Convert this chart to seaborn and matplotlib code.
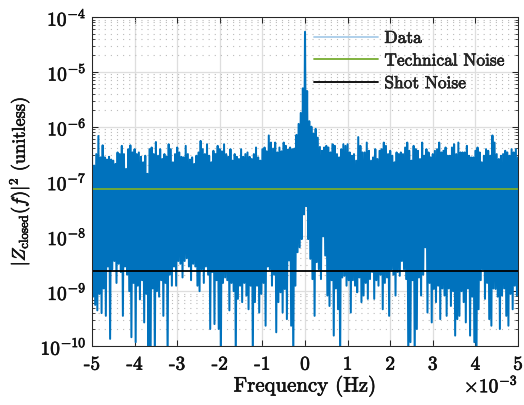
import numpy as np
import pandas as pd
import matplotlib
matplotlib.use("Agg")
import matplotlib.pyplot as plt
import matplotlib.patheffects as pe
import seaborn as sns
from matplotlib.lines import Line2D
from matplotlib.ticker import LogLocator, NullFormatter, LogFormatterSciNotation

# Closed-loop periodogram, 401 frequency bins across +-5 mHz.
# Even bins and odd bins are kept as separate lists of log10 power.
even_bins_log10 = [
    -6.41, -6.71, -6.50, -6.17, -6.56, -6.34, -6.56, -6.60, -6.55, -6.60,
    -6.62, -6.68, -6.47, -6.50, -6.35, -6.50, -6.77, -6.41, -6.34, -6.47,
    -6.41, -6.50, -6.47, -6.55, -6.65, -6.53, -6.86, -6.41, -6.38, -6.50,
    -6.28, -6.53, -6.41, -6.59, -6.50, -6.55, -6.32, -6.41, -6.65, -6.50,
    -6.38, -6.47, -6.55, -6.56, -6.35, -6.50, -6.60, -6.56, -6.68, -6.53,
    -6.47, -6.26, -6.41, -6.50, -6.32, -6.53, -6.65, -6.44, -6.50, -6.35,
    -6.41, -6.45, -6.32, -6.50, -6.55, -6.41, -6.62, -6.50, -6.55, -6.59,
    -6.41, -6.55, -6.50, -6.47, -6.55, -6.59, -6.50, -6.38, -6.56, -6.62,
    -6.41, -6.38, -6.45, -6.16, -6.29, -6.40, -6.29, -6.47, -6.38, -6.45,
    -6.29, -6.35, -6.42, -6.38, -6.41, -6.40, -6.15, -5.95, -5.75, -5.30,
    -4.27, -5.35, -5.90, -6.00, -6.13, -6.04, -6.20, -6.37, -6.44, -6.38,
    -6.35, -6.38, -6.47, -6.32, -6.35, -6.50, -6.56, -6.41, -6.32, -6.35,
    -6.32, -6.47, -6.53, -6.50, -6.62, -6.19, -6.35, -6.47, -6.47, -6.29,
    -6.44, -6.62, -6.56, -6.41, -6.59, -6.44, -6.41, -6.29, -6.35, -6.50,
    -6.44, -6.53, -6.65, -6.47, -6.50, -6.47, -6.50, -6.38, -6.29, -6.44,
    -6.62, -6.35, -6.41, -6.44, -6.59, -6.29, -6.53, -6.41, -6.47, -6.56,
    -6.50, -6.44, -6.41, -6.29, -6.47, -6.44, -6.38, -6.53, -6.53, -6.38,
    -6.32, -6.50, -6.29, -6.47, -6.47, -6.47, -6.35, -6.53, -6.56, -6.56,
    -6.44, -6.38, -6.47, -6.65, -6.53, -6.41, -6.44, -6.53, -6.16, -6.29,
    -6.50, -6.59, -6.53, -6.50, -6.44, -6.47, -6.53, -6.41, -6.47, -6.41,
    -6.56,
]
odd_bins_log10 = [
    -9.10, -9.25, -9.35, -9.05, -9.40, -8.95, -9.45, -8.55, -9.87, -8.60,
    -8.45, -8.85, -8.50, -8.65, -9.45, -8.55, -8.70, -9.00, -9.84, -8.85,
    -9.93, -8.90, -9.15, -8.80, -9.57, -9.05, -10.3, -10.3, -8.95, -10.3,
    -9.00, -9.10, -8.80, -9.45, -8.85, -10.3, -8.70, -8.90, -8.55, -8.90,
    -8.45, -8.50, -8.75, -8.45, -8.40, -8.55, -8.80, -8.50, -8.55, -8.90,
    -9.00, -8.60, -8.85, -8.55, -8.70, -9.69, -8.65, -9.60, -8.80, -9.69,
    -10.3, -8.85, -8.75, -8.80, -9.35, -8.85, -9.00, -10.3, -9.14, -8.90,
    -9.20, -8.85, -9.08, -9.33, -8.90, -10.3, -9.20, -8.90, -9.39, -9.05,
    -8.85, -9.63, -8.55, -8.60, -8.90, -8.70, -9.75, -9.20, -9.02, -9.39,
    -8.96, -9.51, -8.44, -9.63, -10.3, -8.90, -8.29, -8.20, -8.05, -7.60,
    -7.45, -8.05, -8.41, -8.78, -9.45, -8.47, -8.60, -8.78, -8.00, -8.35,
    -9.08, -9.27, -8.80, -9.81, -8.95, -9.33, -10.3, -8.75, -8.72, -8.90,
    -8.80, -9.39, -8.80, -8.90, -9.02, -8.75, -9.20, -9.08, -8.85, -9.14,
    -8.78, -8.65, -9.14, -8.80, -8.90, -8.70, -9.33, -8.85, -8.75, -9.45,
    -8.60, -8.70, -9.08, -8.65, -8.72, -8.45, -8.60, -8.78, -10.3, -9.93,
    -8.80, -10.3, -9.69, -8.75, -9.08, -8.70, -8.20, -9.39, -8.85, -9.57,
    -8.96, -9.20, -8.90, -9.51, -8.95, -9.08, -9.45, -8.95, -9.27, -9.00,
    -9.81, -9.51, -9.45, -9.00, -9.20, -9.57, -8.95, -9.81, -9.10, -9.93,
    -10.3, -9.33, -8.80, -8.60, -9.14, -8.85, -9.51, -9.63, -8.95, -8.96,
    -9.10, -9.69, -9.08, -8.95, -9.45, -9.63, -9.05, -9.33, -8.90, -9.08,
]

technical_noise = 7.2e-8
shot_noise = 2.35e-9

freq_span = (-5e-3, 5e-3)
x_tick_values = [-5, -4, -3, -2, -1, 0, 1, 2, 3, 4, 5]
x_tick_labels = ["-5", "-4", "-3", "-2", "-1", "0", "1", "2", "3", "4", "5"]
y_tick_values = [1e-10, 1e-9, 1e-8, 1e-7, 1e-6, 1e-5, 1e-4]
legend_labels = ["Data", "Technical Noise", "Shot Noise"]

data_color = "#0072BD"
data_legend_color = "#a9cde9"
technical_color = "#77AC30"
shot_color = "#000000"

# assemble the spectrum
n_bins = len(even_bins_log10) + len(odd_bins_log10)
psd = np.empty(n_bins)
psd[0::2] = 10.0 ** np.asarray(even_bins_log10)
psd[1::2] = 10.0 ** np.asarray(odd_bins_log10)
spectrum = pd.DataFrame({"freq": np.linspace(freq_span[0], freq_span[1], n_bins),
                         "psd": psd})
technical = pd.DataFrame({"freq": list(freq_span), "psd": [technical_noise] * 2})
shot = pd.DataFrame({"freq": list(freq_span), "psd": [shot_noise] * 2})

sns.set_style("ticks")
plt.rcParams.update({
    "font.family": "serif",
    "font.serif": ["cmr10"],
    "mathtext.fontset": "cm",
    "axes.unicode_minus": False,
    "axes.formatter.use_mathtext": True,
    "axes.edgecolor": "#262626",
    "axes.linewidth": 0.75,
})

# a thin outline gives the Computer Modern glyphs a slightly heavier weight
ink = [pe.withStroke(linewidth=0.45, foreground="#111111")]

fig = plt.figure(figsize=(5.24, 4.06), dpi=100)
ax = fig.add_axes([92 / 524, 1 - 347 / 406, 426 / 524, 329 / 406])

sns.lineplot(data=spectrum, x="freq", y="psd", color=data_color, lw=1.45,
             estimator=None, sort=False, ax=ax, solid_joinstyle="round")
sns.lineplot(data=technical, x="freq", y="psd", color=technical_color, lw=1.3,
             estimator=None, ax=ax)
sns.lineplot(data=shot, x="freq", y="psd", color=shot_color, lw=1.3,
             estimator=None, ax=ax)

ax.set_yscale("log")
ax.set_xlim(*freq_span)
ax.set_ylim(1e-10, 1e-4)

ax.set_xticks(np.asarray(x_tick_values) * 1e-3)
ax.set_xticklabels(x_tick_labels)
ax.set_yticks(y_tick_values)
ax.yaxis.set_major_formatter(LogFormatterSciNotation())
ax.yaxis.set_minor_locator(LogLocator(base=10, subs=np.arange(2, 10), numticks=20))
ax.yaxis.set_minor_formatter(NullFormatter())
ax.set_ylim(1e-10, 1e-4)

ax.set_axisbelow(True)
ax.grid(True, which="major", color="#dedede", lw=0.9, ls="-")
ax.grid(True, which="minor", axis="y", color="#bcbcbc", lw=0.8, ls=(0, (1, 4.5)))

ax.tick_params(which="both", direction="in", top=True, right=True,
               color="#262626", labelcolor="#111111")
ax.tick_params(which="major", length=4, width=0.75, labelsize=14)
ax.tick_params(which="minor", length=2.2, width=0.6)
ax.tick_params(axis="x", pad=7)
ax.tick_params(axis="y", pad=4)

ax.set_xlabel("Frequency (Hz)", fontsize=15, labelpad=2, color="#111111")
ax.set_ylabel(r"$|Z_{\rm closed}(f)|^2$ (unitless)", fontsize=13.2, labelpad=6,
              color="#111111")
offset = ax.text(1.0, -0.088, r"$\times10^{-3}$", transform=ax.transAxes,
                 ha="right", va="top", fontsize=14, color="#111111")

handles = [Line2D([], [], color=data_legend_color, lw=1.3),
           Line2D([], [], color=technical_color, lw=1.3),
           Line2D([], [], color=shot_color, lw=1.3)]
leg = ax.legend(handles, legend_labels, loc="upper left", bbox_to_anchor=(0.505, 0.98),
                frameon=False, fontsize=12.5, handlelength=3.7, handletextpad=0.35,
                labelspacing=0.42, borderaxespad=0.0)

for t in (ax.get_xticklabels() + ax.get_yticklabels() + leg.get_texts()
          + [ax.xaxis.label, ax.yaxis.label, offset]):
    t.set_path_effects(ink)

fig.savefig("out.png", dpi=100)
